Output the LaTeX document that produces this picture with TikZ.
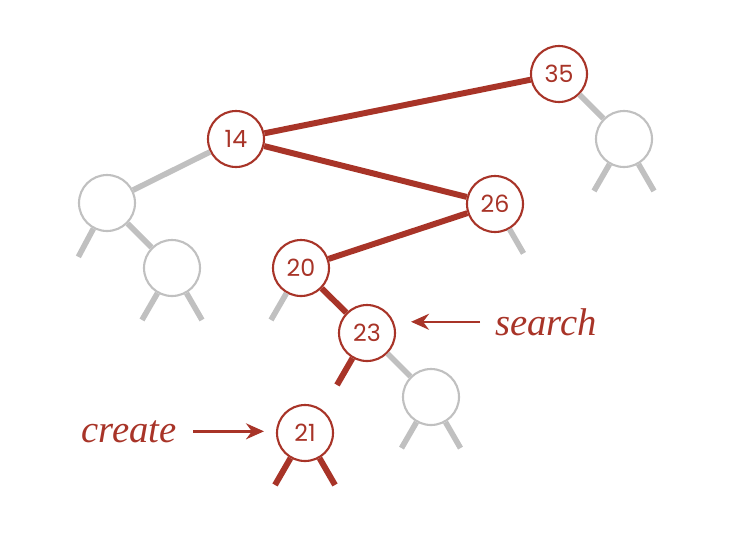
\documentclass[tikz,border=0pt]{standalone}
\usepackage{fontspec}
\setmainfont{Liberation Serif}
\newfontfamily\numfont{Poppins}
\usepackage{xcolor}
\usepackage{tikz}
\usetikzlibrary{arrows.meta,positioning,calc}
\definecolor{treered}{RGB}{168,52,40}
\definecolor{treegray}{RGB}{192,192,192}

\begin{document}
\begin{tikzpicture}[
    nd/.style={circle, draw=treered, line width=1.2pt, fill=white, minimum size=1.12cm, inner sep=0pt, text=treered, font=\numfont\fontsize{13.5}{16}\selectfont},
    gnd/.style={circle, draw=treegray, line width=1.2pt, fill=white, minimum size=1.12cm, inner sep=0pt},
    redge/.style={treered, line width=3.4pt},
    gedge/.style={treegray, line width=3.2pt},
    lbl/.style={inner sep=0pt, text=treered, font=\itshape\fontsize{22}{26}\selectfont},
    arr/.style={-{Stealth[length=3.6mm, width=3.2mm, inset=1.2mm]}, treered, line width=1.4pt}
]
\useasboundingbox (0,0) rectangle (14.9,-10.76);
\node[nd] (n35) at (11.18,-1.48) {35};
\node[nd] (n14) at (4.72,-2.78) {14};
\node[gnd] (gd) at (12.48,-2.78) {};
\node[gnd] (ga) at (2.14,-4.06) {};
\node[nd] (n26) at (9.90,-4.08) {26};
\node[gnd] (gb) at (3.44,-5.36) {};
\node[nd] (n20) at (6.02,-5.36) {20};
\node[nd] (n23) at (7.34,-6.66) {23};
\node[gnd] (gc) at (8.62,-7.94) {};
\node[nd] (n21) at (6.10,-8.66) {21};
\node[lbl, anchor=base west] (srch) at (9.90,-6.70) {search};
\node[lbl, anchor=base east] (crt) at (3.54,-8.84) {create};
\coordinate (ga1) at ([shift={(-118:1.22)}]ga);
\coordinate (gb1) at ([shift={(-120:1.2)}]gb);
\coordinate (gb2) at ([shift={(-60:1.2)}]gb);
\coordinate (n26r) at ([shift={(-60:1.14)}]n26);
\coordinate (n20l) at ([shift={(-120:1.2)}]n20);
\coordinate (n23l) at ([shift={(-120:1.2)}]n23);
\coordinate (gc1) at ([shift={(-120:1.18)}]gc);
\coordinate (gc2) at ([shift={(-60:1.18)}]gc);
\coordinate (gd1) at ([shift={(-120:1.2)}]gd);
\coordinate (gd2) at ([shift={(-60:1.2)}]gd);
\coordinate (n21l) at ([shift={(-120:1.2)}]n21);
\coordinate (n21r) at ([shift={(-60:1.2)}]n21);
\draw[redge] (n35) -- (n14);
\draw[redge] (n14) -- (n26);
\draw[redge] (n26) -- (n20);
\draw[redge] (n20) -- (n23);
\draw[redge] (n23) -- (n23l);
\draw[redge] (n21) -- (n21l);
\draw[redge] (n21) -- (n21r);
\draw[gedge] (n35) -- (gd);
\draw[gedge] (n14) -- (ga);
\draw[gedge] (ga) -- (gb);
\draw[gedge] (n23) -- (gc);
\draw[gedge] (ga) -- (ga1);
\draw[gedge] (gb) -- (gb1);
\draw[gedge] (gb) -- (gb2);
\draw[gedge] (n26) -- (n26r);
\draw[gedge] (n20) -- (n20l);
\draw[gedge] (gc) -- (gc1);
\draw[gedge] (gc) -- (gc2);
\draw[gedge] (gd) -- (gd1);
\draw[gedge] (gd) -- (gd2);
\draw[arr, shorten <=0.3cm, shorten >=0.3cm] (srch.west) -- (srch.west -| n23.east);
\draw[arr, shorten <=0.32cm, shorten >=0.24cm] (crt.east) -- (crt.east -| n21.west);
\end{tikzpicture}
\end{document}
